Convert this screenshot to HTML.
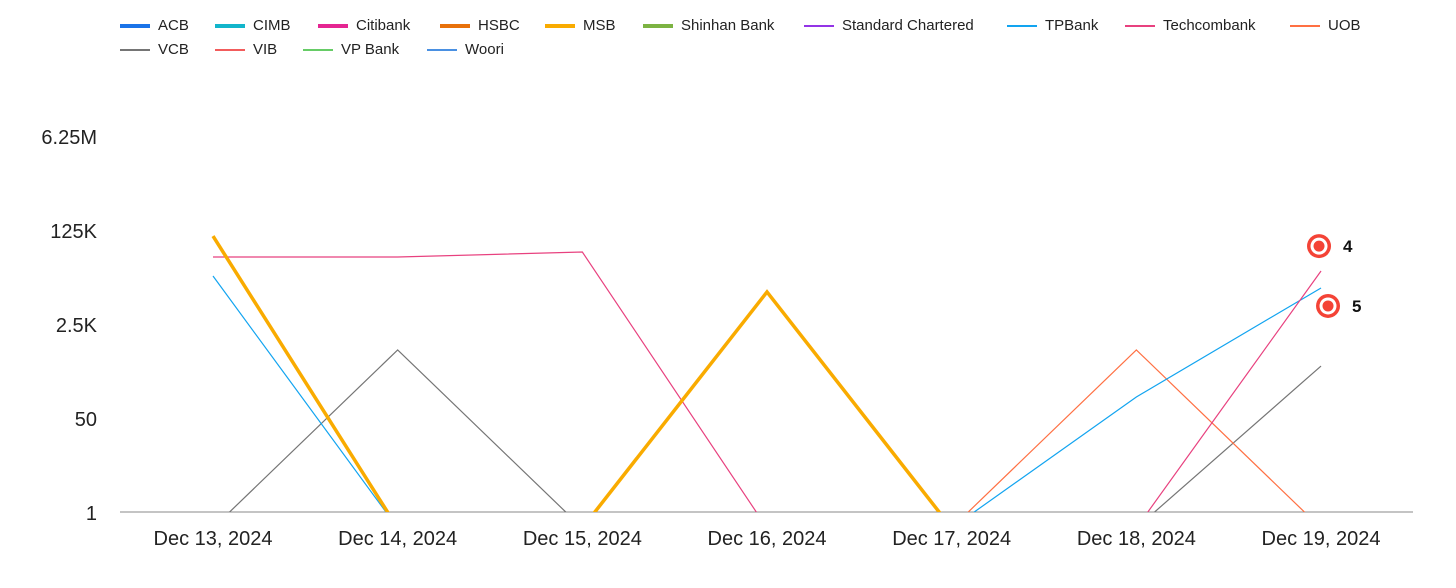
<!DOCTYPE html>
<html><head><meta charset="utf-8"><style>
body{margin:0;background:#fff;font-family:"Liberation Sans",Roboto,sans-serif;}
#wrap{position:relative;width:1456px;height:588px;overflow:hidden;}
.legend{position:absolute;left:0;top:0;width:1456px;height:70px;font-size:15px;color:#222;}
.item{position:absolute;display:flex;align-items:center;white-space:nowrap;}
.sw{width:30px;margin-right:8px;}
</style></head><body>
<div id="wrap">
<div class="legend" id="legend"></div>
<svg id="svg" width="1456" height="588" style="position:absolute;left:0;top:0"></svg>
</div>
<script>
const categories=["Dec 13, 2024","Dec 14, 2024","Dec 15, 2024","Dec 16, 2024","Dec 17, 2024","Dec 18, 2024","Dec 19, 2024"];
const tickValues=[1,50,2500,125000,6250000];
const tickLabels=["1","50","2.5K","125K","6.25M"];
const seriesNames=["ACB","CIMB","Citibank","HSBC","MSB","Shinhan Bank","Standard Chartered","TPBank","Techcombank","UOB","VCB","VIB","VP Bank","Woori"];
const seriesColors=["#1a73e8","#12b5cb","#e52592","#e8710a","#f9ab00","#7cb342","#9334e6","#12a4f0","#e8417f","#ff7043","#757575","#f25c5c","#66cc66","#4a90e2"];
const seriesThick=[1,1,1,1,1,1,0,0,0,0,0,0,0,0];
const legendX=[120,215,318,440,545,643,804,1007,1125,1290,120,215,303,427];
const msb=[97000,0,0,9500,0,0,0];
const techcombank=[40600,40600,50000,0,0,0,22700];
const tpbank=[18400,0,0,0,0,120,11200];
const vcb=[0,850,0,0,0,0,435];
const uob=[0,0,0,0,0,850,0];
const annotations=[{label:"4",x:6,v:64000,dx:-2},{label:"5",x:6,v:5300,dx:7}];
const NS="http://www.w3.org/2000/svg";
const svg=document.getElementById('svg');
const x=i=>213+i*184.67;
const y=v=>v<=0?528:512-94*Math.log(v)/Math.log(50);
function mk(t,a){const e=document.createElementNS(NS,t);for(const k in a)e.setAttribute(k,a[k]);svg.appendChild(e);return e;}
seriesNames.forEach((n,i)=>{const it=document.createElement('div');it.className='item';


it.style.left=legendX[i]+'px';it.style.top=(i<10?17:41)+'px';
it.innerHTML='<span class="sw" style="height:'+(seriesThick[i]?4:2)+'px;background:'+seriesColors[i]+'"></span>'+n;
document.getElementById('legend').appendChild(it);});
tickValues.forEach((v,i)=>{const t=mk('text',{x:97,y:y(v)+8,'text-anchor':'end','font-size':20,fill:'#222'});t.textContent=tickLabels[i];

});
const base=mk('line',{x1:120,x2:1413,y1:512,y2:512,stroke:'#888','stroke-width':1});


categories.forEach((c,i)=>{const t=mk('text',{x:x(i),y:545,'text-anchor':'middle','font-size':20,fill:'#222'});t.textContent=c;

});
const clip=mk('clipPath',{id:'cp'});
const cp=document.createElementNS(NS,'rect');cp.setAttribute('x',0);cp.setAttribute('y',0);cp.setAttribute('width',1456);cp.setAttribute('height',512);clip.appendChild(cp);
const plotted=[["VCB",vcb,"#757575",1.2],["UOB",uob,"#ff7043",1.2],["TPBank",tpbank,"#12a4f0",1.2],["Techcombank",techcombank,"#e8417f",1.2],["MSB",msb,"#f9ab00",3.5]];
plotted.forEach(([n,d,c,w])=>{const p=mk('polyline',{points:d.map((v,i)=>x(i)+','+y(v)).join(' '),fill:'none',stroke:c,'stroke-width':w,'clip-path':'url(#cp)'});

});
annotations.forEach(a=>{const cx=x(a.x)+a.dx,cy=y(a.v);
const g=mk('g',{});
[['circle',{cx,cy,r:12,fill:'#f44336'}],['circle',{cx,cy,r:8.5,fill:'#fff'}],['circle',{cx,cy,r:5.5,fill:'#f44336'}]].forEach(([t,at])=>{const e=document.createElementNS(NS,t);for(const k in at)e.setAttribute(k,at[k]);g.appendChild(e);});
const t=mk('text',{x:cx+24,y:cy+6,'font-size':17,'font-weight':'bold',fill:'#111'});t.textContent=a.label;

});
</script>
</body></html>
